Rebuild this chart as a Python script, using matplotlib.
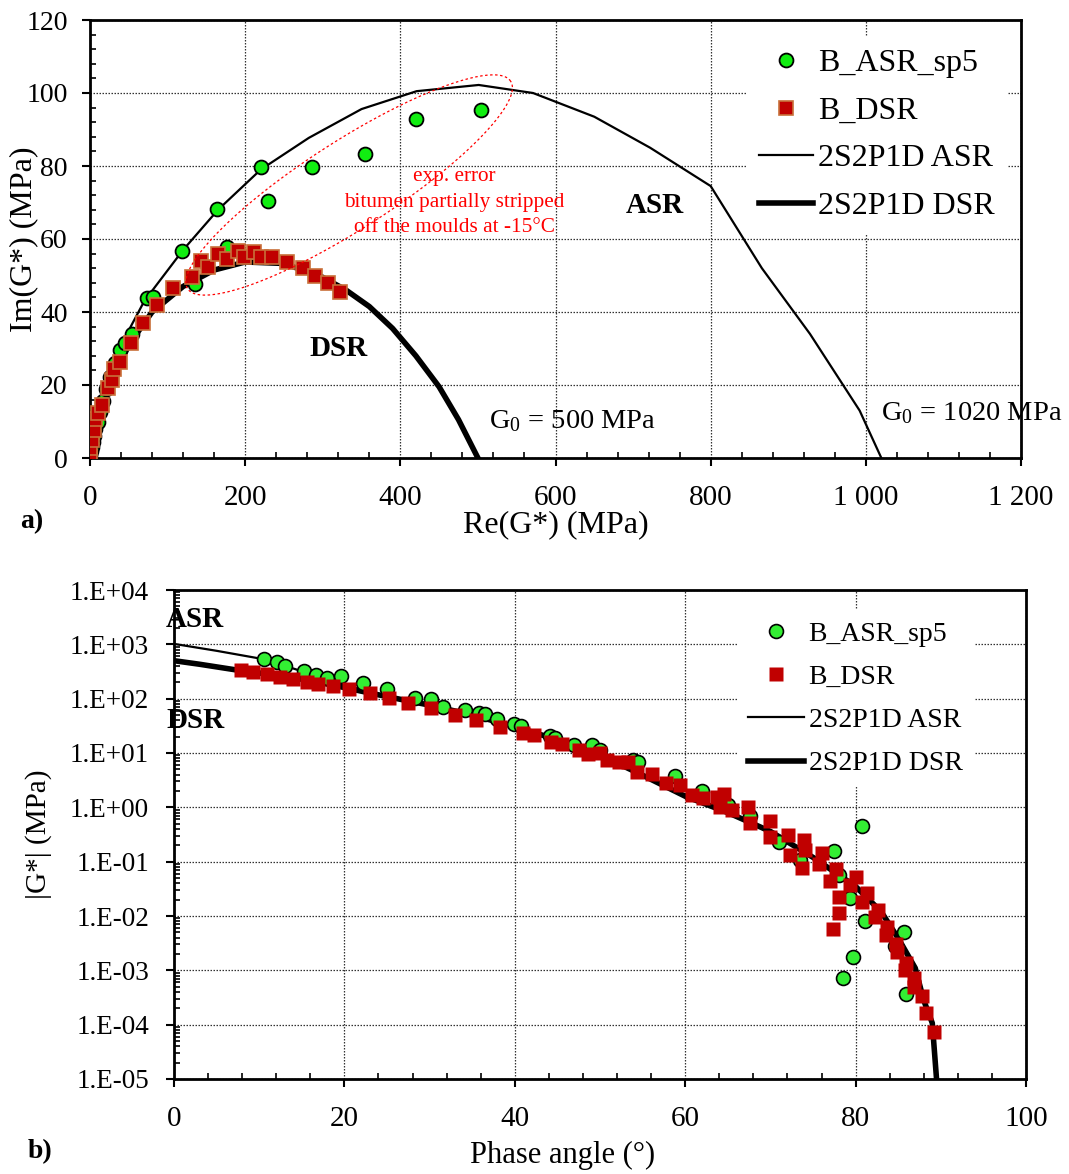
import matplotlib
matplotlib.use("Agg")
import matplotlib.pyplot as plt
import numpy as np
from matplotlib.ticker import MultipleLocator, FuncFormatter, LogLocator, NullFormatter

plt.rcParams['font.family'] = ['Liberation Serif', 'DejaVu Serif']
plt.rcParams['mathtext.fontset'] = 'custom'
plt.rcParams['mathtext.rm'] = 'Liberation Serif'
plt.rcParams['mathtext.it'] = 'Liberation Serif:italic'

# ---- a) Cole-Cole plane: experimental points ----
asr_re = [0.5, 1, 2, 3.5, 5, 7, 10, 13, 17, 21, 26, 32, 39, 45, 54, 73, 81, 119, 135, 164, 177, 221, 230, 286, 354, 420, 504]
asr_im = [0.8, 1.8, 3, 4.5, 6, 8, 10, 12.5, 15.5, 19, 22.3, 26, 29.6, 31.6, 34, 43.9, 44.2, 56.8, 47.8, 68.2, 57.7, 79.6, 70.5, 79.6, 83.2, 92.8, 95.3]

dsr_re = [0, 0, 2.2, 5.2, 6.4, 10.7, 15, 23.6, 27.9, 31.3, 38.7, 52.8, 68.7, 87, 107, 131, 143, 152, 165, 176,
          191, 198, 211, 220, 235, 254, 274, 290, 307, 322]
dsr_im = [0.4, 2.7, 4.9, 7.7, 10.6, 12.2, 14.5, 19.3, 21.4, 24.4, 26.4, 31.6, 36.9, 41.9, 46.5, 49.7, 54, 52.4, 55.9, 54.4,
          56.7, 55, 56.5, 55.2, 55.2, 53.6, 52, 50, 47.9, 45.4]

# 2S2P1D model curves (Cole-Cole)
asr_m_re = [0, 3, 10, 22, 40, 70, 120, 165, 220, 282, 350, 421, 501, 571, 650, 722, 800, 866, 928, 992, 1020]
asr_m_im = [0, 5, 12, 21, 31, 43, 57, 68, 79, 87.7, 95.6, 100.5, 102.2, 100, 93.5, 85, 74.5, 52, 34, 13, 0]
dsr_m_re = [0, 5, 15, 30, 50, 80, 120, 160, 200, 250, 300, 330, 360, 390, 420, 450, 475, 500]
dsr_m_im = [0, 7, 14, 22, 31, 40, 47, 51.5, 53.7, 53.3, 49.5, 46, 41.5, 35.5, 28, 19.5, 10.5, 0]

# ---- b) Black space ----
asr_pa = [10.6, 12.1, 13.0, 15.2, 16.7, 17.9, 19.6, 22.2, 25.0, 28.3, 30.2, 31.6, 34.2, 35.8, 36.5, 37.9, 39.9, 40.7,
          44.1, 44.7, 46.9, 49.1, 50.0, 53.9, 54.5, 58.8, 62.0, 65.0, 67.6, 71.0, 73.5, 77.5, 78.0, 79.3, 80.7, 81.1,
          79.7, 78.5, 84.6, 85.7, 85.9]
asr_g = [530, 467, 398, 327, 272, 237, 261, 197, 148, 102, 97, 69, 62, 55, 52, 42, 34, 31,
         20.6, 18.6, 14.0, 14.0, 11.4, 7.4, 6.9, 3.7, 2.0, 1.1, 0.68, 0.23, 0.107, 0.157, 0.057, 0.0211, 0.45, 0.0082,
         0.00178, 0.00071, 0.0028, 0.0051, 0.00037]

dsr_pa = [7.9, 9.3, 10.9, 12.4, 14.0, 15.6, 16.9, 18.7, 20.5, 23.0, 25.2, 27.5, 30.2, 33.0, 35.4, 38.3, 41.0, 42.2,
          44.3, 45.5, 47.5, 48.6, 50.0, 50.8, 52.2, 53.3, 54.3, 56.1, 57.8, 59.4, 60.8, 62.1, 63.7, 64.6, 64.1, 65.5,
          67.4, 67.6, 69.95, 69.95, 72.1, 72.3, 73.9, 74.1, 73.7, 75.7, 76.0, 77.7, 77.0, 80.0, 79.3, 81.3, 80.8,
          78.0, 78.0, 77.3, 82.6, 82.3, 83.7, 83.6, 84.8, 84.9, 85.9, 85.8, 86.8, 86.9, 87.8, 88.3, 89.2]
dsr_g = [337, 313, 284, 254, 227, 205, 186, 171, 149, 125, 104, 82, 66, 50, 40.5, 29.7, 23.7, 21.4,
         16.1, 14.6, 11.4, 9.6, 9.9, 7.4, 6.9, 6.9, 4.5, 4.1, 2.84, 2.58, 1.69, 1.47, 1.53, 1.76, 1.03, 0.89,
         1.03, 0.51, 0.56, 0.28, 0.31, 0.132, 0.25, 0.164, 0.075, 0.089, 0.142, 0.072, 0.045, 0.053, 0.037, 0.027, 0.0183,
         0.0226, 0.0115, 0.0058, 0.0129, 0.0095, 0.0064, 0.0045, 0.0031, 0.0022, 0.00138, 0.00101, 0.00071, 0.0005,
         0.00034, 0.000162, 0.000074]

asr_m_pa = [0, 5, 10.6, 15, 19.9, 25, 30, 35, 40, 45, 50, 55, 60, 65, 70, 75, 80, 83, 85, 87, 88, 89, 89.5]
asr_m_g = [1020, 760, 530, 320, 178, 112, 77, 51, 31, 17.8, 9.4, 4.0, 1.65, 0.82, 0.37, 0.125, 0.036, 0.0125, 0.004,
           0.00115, 0.0003, 0.00011, 0.00001]
dsr_m_pa = [0, 3, 7.4, 12, 16, 20, 25, 30, 35, 40, 45, 50, 55, 60, 65, 70, 75, 80, 83, 85, 87, 88, 89, 89.5]
dsr_m_g = [500, 430, 336, 270, 215, 160, 109, 76, 50, 30.5, 17.5, 9.2, 3.9, 1.6, 0.8, 0.36, 0.12, 0.035, 0.012,
           0.0039, 0.0011, 0.00028, 0.000107, 0.00001]

red = '#C00000'

W, H = 1069, 1174
fig = plt.figure(figsize=(W / 100, H / 100), dpi=100)


def style_axes(ax):
    for s in ax.spines.values():
        s.set_linewidth(2)
    ax.tick_params(which='major', direction='out', length=6, width=1.5)
    ax.tick_params(which='minor', direction='in', length=4, width=1.2)
    ax.grid(True, which='major', linestyle=(0, (1.2, 1.2)), color='0.2', linewidth=0.9)
    ax.set_axisbelow(True)


# ============ a) ============
ax1 = fig.add_axes([90 / W, 1 - 458 / H, (1021 - 90) / W, (458 - 20) / H])
ax1.plot(asr_m_re, asr_m_im, color='k', lw=1.6, label='2S2P1D ASR', zorder=2)
ax1.plot(dsr_m_re, dsr_m_im, color='k', lw=4, label='2S2P1D DSR', zorder=2)
ax1.plot(asr_re, asr_im, 'o', ms=10, mfc='#11EE11', mec='k', mew=1.3, label='B_ASR_sp5', zorder=3)
ax1.plot(dsr_re, dsr_im, 's', ms=10, mfc=red, mec='#C8703A', mew=1.2, label='B_DSR', zorder=4)

# red dotted ellipse around the stripped points (sized in pixels)
t = np.linspace(0, 2 * np.pi, 200)
ang = np.deg2rad(32.7)
a_px, b_px = 192, 44
ex = a_px * np.cos(t) * np.cos(ang) - b_px * np.sin(t) * np.sin(ang)
ey = a_px * np.cos(t) * np.sin(ang) + b_px * np.sin(t) * np.cos(ang)
ax1.plot(334 + ex / 0.776, 74.8 + ey / 3.65, color='red', ls=(0, (2, 2)), lw=0.9, zorder=5)
ax1.text(470, 70.1, 'exp. error\nbitumen partially stripped\noff the moulds at -15°C', color='red',
         fontsize=15.3, ha='center', va='center', linespacing=1.45)

ax1.set_xlim(0, 1200)
ax1.set_ylim(0, 120)
ax1.xaxis.set_major_locator(MultipleLocator(200))
ax1.xaxis.set_minor_locator(MultipleLocator(40))
ax1.yaxis.set_major_locator(MultipleLocator(20))
ax1.yaxis.set_minor_locator(MultipleLocator(4))
ax1.xaxis.set_major_formatter(FuncFormatter(lambda v, p: f"{int(v):,}".replace(",", " ")))
style_axes(ax1)
ax1.tick_params(axis='x', which='major', labelsize=21, pad=13.5)
ax1.tick_params(axis='y', which='major', labelsize=20, pad=10)
ax1.set_xlabel('Re(G*) (MPa)', fontsize=23)
ax1.xaxis.set_label_coords(0.5, -(510 - 458) / 438)
ax1.set_ylabel('Im(G*) (MPa)', fontsize=23)
ax1.yaxis.set_label_coords((38 - 90) / 931, 0.5)

ax1.text(728, 69.3, 'ASR', fontsize=21, fontweight='bold', ha='center', va='center')
ax1.text(320, 30.1, 'DSR', fontsize=21, fontweight='bold', ha='center', va='center')
ax1.text(622, 10.1, 'G$_0$ = 500 MPa', fontsize=20.5, ha='center', va='center')
ax1.text(1137, 12.3, 'G$_0$ = 1020 MPa', fontsize=20.5, ha='center', va='center')

h, l = ax1.get_legend_handles_labels()
order = [2, 3, 0, 1]
ax1.legend([h[i] for i in order], [l[i] for i in order], loc='upper left',
           bbox_to_anchor=(746 / W, 1 - 36 / H), bbox_transform=fig.transFigure,
           fontsize=23, frameon=True, facecolor='white', edgecolor='none', framealpha=1,
           borderaxespad=0, borderpad=0.4, handlelength=1.7, handletextpad=0.16,
           labelspacing=0.57, fancybox=False, numpoints=1)

fig.text(20 / W, 1 - 522 / H, 'a)', fontsize=20, fontweight='bold', va='center')

# ============ b) ============
ax2 = fig.add_axes([174 / W, 1 - 1079 / H, (1026 - 174) / W, (1079 - 590) / H])
ax2.plot(asr_m_pa, asr_m_g, color='k', lw=1.6, label='2S2P1D ASR', zorder=2)
ax2.plot(dsr_m_pa, dsr_m_g, color='k', lw=4, label='2S2P1D DSR', zorder=2)
ax2.plot(asr_pa, asr_g, 'o', ms=10, mfc='#33EE33', mec='k', mew=1.2, label='B_ASR_sp5', zorder=3)
ax2.plot(dsr_pa, dsr_g, 's', ms=10, mfc=red, mec='none', label='B_DSR', zorder=4)

ax2.set_yscale('log')
ax2.set_xlim(0, 100)
ax2.set_ylim(1e-5, 1e4)
ax2.xaxis.set_major_locator(MultipleLocator(20))
ax2.xaxis.set_minor_locator(MultipleLocator(4))
ax2.yaxis.set_major_locator(LogLocator(base=10, numticks=20))
ax2.yaxis.set_minor_locator(LogLocator(base=10, subs=np.arange(2, 10), numticks=20))
ax2.yaxis.set_minor_formatter(NullFormatter())
ax2.yaxis.set_major_formatter(FuncFormatter(lambda v, p: f"1.E{int(round(np.log10(v))):+03d}"))
style_axes(ax2)
ax2.tick_params(axis='x', which='major', labelsize=21, pad=13.5)
ax2.tick_params(axis='y', which='major', labelsize=19.5, pad=12)
ax2.set_xlabel('Phase angle (°)', fontsize=22)
ax2.xaxis.set_label_coords((563 - 174) / 852, -(1141 - 1079) / 489)
ax2.set_ylabel('|G*| (MPa)', fontsize=21)
ax2.yaxis.set_label_coords((52 - 174) / 852, 0.5)

ax2.text(-0.94, 10 ** 3.45, 'ASR', fontsize=21, fontweight='bold', ha='left', va='center', clip_on=False)
ax2.text(-0.94, 10 ** 1.607, 'DSR', fontsize=21, fontweight='bold', ha='left', va='center', clip_on=False)

h, l = ax2.get_legend_handles_labels()
ax2.legend([h[i] for i in order], [l[i] for i in order], loc='upper left',
           bbox_to_anchor=(737 / W, 1 - 610 / H), bbox_transform=fig.transFigure,
           fontsize=20, frameon=True, facecolor='white', edgecolor='none', framealpha=1,
           borderaxespad=0, borderpad=0.4, handlelength=2.0, handletextpad=0.18,
           labelspacing=0.64, fancybox=False, numpoints=1)

fig.text(28 / W, 1 - 1152 / H, 'b)', fontsize=20, fontweight='bold', va='center')

fig.savefig('out.png', dpi=100)
